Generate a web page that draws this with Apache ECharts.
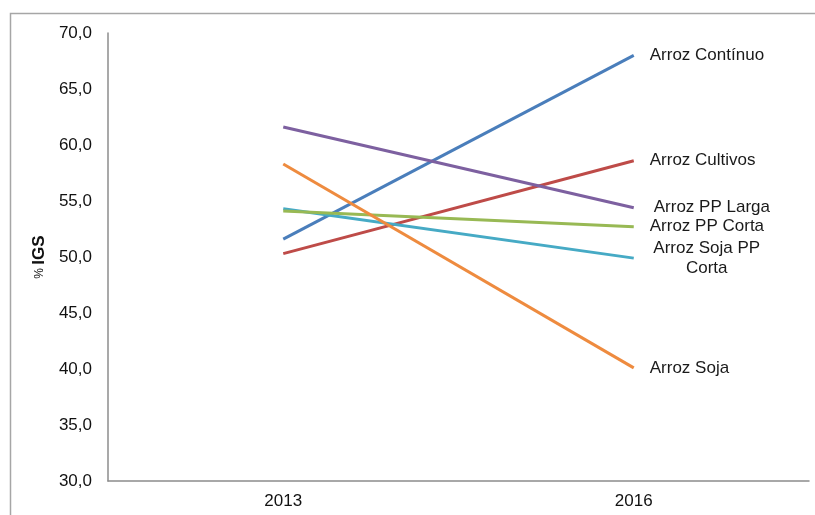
<!DOCTYPE html>
<html>
<head>
<meta charset="utf-8">
<script src="https://cdn.jsdelivr.net/npm/echarts@6/dist/echarts.min.js"></script>
<style>
  html, body { margin: 0; padding: 0; background: #fff; }
  #chart { width: 815px; height: 515px; }
</style>
</head>
<body>
<div id="chart"></div>
<script>
// Years on the category axis
const years = ['2013', '2016'];

// % IGS per system, 2013 -> 2016
const arrozContinuo = [51.6, 68.0];
const arrozCultivos = [50.3, 58.6];
const arrozPPLarga = [61.6, 54.4];
const arrozSojaPPCorta = [54.3, 49.9];
const arrozPPCorta = [54.1, 52.7];
const arrozSoja = [58.3, 40.1];

// Series names, as printed at the line ends
const names = ['Arroz Contínuo', 'Arroz Cultivos', 'Arroz PP Larga', 'Arroz Soja PP\nCorta', 'Arroz PP Corta', 'Arroz Soja'];
const values = [arrozContinuo, arrozCultivos, arrozPPLarga, arrozSojaPPCorta, arrozPPCorta, arrozSoja];
const colors = ['#4A7EBB', '#BE4B48', '#7D60A0', '#46AAC5', '#98B954', '#EE8B3F'];

// End-label placement per series
const labelStyle = [
  { distance: 16, align: 'left' },
  { distance: 16, align: 'left' },
  { distance: 20, align: 'left' },
  { distance: 73, align: 'center' },
  { distance: 16, align: 'left' },
  { distance: 16, align: 'left' }
];

const series = values.map((vals, i) => ({
  name: names[i],
  type: 'line',
  symbol: 'none',
  lineStyle: { width: 3, color: colors[i] },
  itemStyle: { color: colors[i] },
  endLabel: {
    show: true,
    distance: labelStyle[i].distance,
    align: labelStyle[i].align,
    formatter: names[i],
    fontFamily: 'Liberation Sans, Arial, sans-serif',
    fontSize: 17,
    lineHeight: 20,
    color: '#1a1a1a'
  },
  data: vals,
  animation: false
}));

const chart = echarts.init(document.getElementById('chart'), null, { renderer: 'canvas' });
chart.setOption({
  animation: false,
  backgroundColor: '#fff',
  graphic: [{
    type: 'rect',
    shape: { x: 10.5, y: 13.5, width: 900, height: 600 },
    style: { fill: 'none', stroke: '#a6a6a6', lineWidth: 1.5 },
    silent: true
  }],
  grid: { left: 108, top: 33, right: 6, bottom: 34 },
  xAxis: {
    type: 'category',
    data: years,
    boundaryGap: true,
    axisLine: { lineStyle: { color: '#8c8c8c', width: 1.5 } },
    axisTick: { show: false },
    axisLabel: {
      fontFamily: 'Liberation Sans, Arial, sans-serif',
      fontSize: 17,
      color: '#111',
      margin: 12
    }
  },
  yAxis: {
    type: 'value',
    min: 30,
    max: 70,
    interval: 5,
    name: '{p|%} {b|IGS}',
    nameLocation: 'middle',
    nameGap: 56,
    nameRotate: 90,
    nameTextStyle: {
      rich: {
        p: { fontFamily: 'Liberation Sans, Arial, sans-serif', fontSize: 12, color: '#111' },
        b: { fontFamily: 'Liberation Sans, Arial, sans-serif', fontSize: 17, fontWeight: 'bold', color: '#111' }
      }
    },
    axisLine: { show: true, lineStyle: { color: '#8c8c8c', width: 1.5 } },
    axisTick: { show: false },
    splitLine: { show: false },
    axisLabel: {
      fontFamily: 'Liberation Sans, Arial, sans-serif',
      fontSize: 17,
      color: '#111',
      margin: 16,
      formatter: v => v.toFixed(1).replace('.', ',')
    }
  },
  series: series
});
</script>
</body>
</html>
